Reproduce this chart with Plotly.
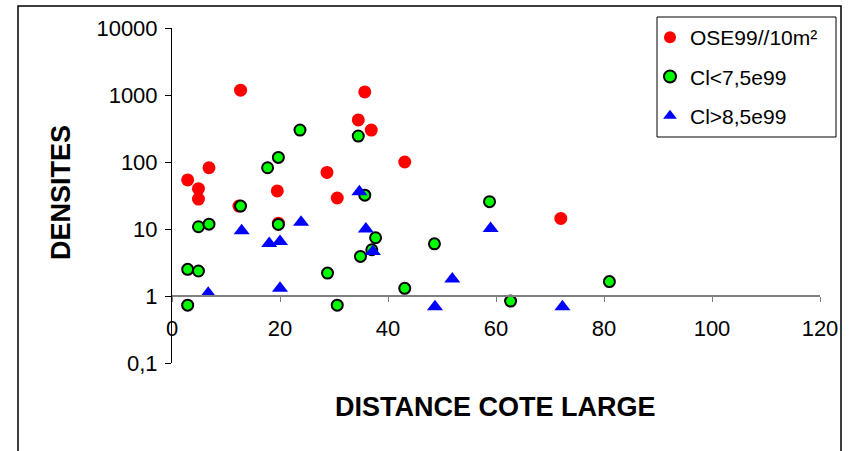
import plotly.graph_objects as go

# --- data ---
red_x = [2.9, 4.9, 4.9, 6.85, 12.4, 12.7, 19.5, 19.7, 28.7, 30.6, 34.5, 35.7, 36.9, 43.1, 72]
red_y = [54, 40, 28, 82, 22, 1180, 37, 12.2, 70, 29, 424, 1110, 300, 100, 14.4]

green_x = [2.9, 2.9, 4.9, 4.9, 6.85, 12.7, 17.7, 19.7, 19.7, 23.7, 28.8, 30.6, 34.5, 34.9,
           35.7, 37.0, 37.7, 43.1, 48.6, 58.8, 62.7, 81]
green_y = [2.5, 0.73, 2.36, 10.8, 11.8, 22, 82, 117, 11.7, 300, 2.2, 0.73, 244, 3.9,
           32, 4.9, 7.4, 1.3, 6.0, 25.6, 0.84, 1.64]

blue_x = [6.7, 12.9, 18, 20, 20, 23.9, 34.7, 35.9, 37.2, 48.7, 51.9, 59, 72.3]
blue_y = [1.1, 9.4, 6.1, 6.5, 1.3, 12.6, 36, 10, 4.6, 0.69, 1.8, 10.2, 0.69]

series_names = ["OSE99//10m²", "Cl<7,5e99", "Cl>8,5e99"]
y_tickvals = [0.1, 1, 10, 100, 1000, 10000]
y_ticktext = ["0,1", "1", "10", "100", "1000", "10000"]
x_tickvals = [0, 20, 40, 60, 80, 100, 120]
x_title = "DISTANCE COTE LARGE"
y_title = "DENSITES"

FONT = "Liberation Sans, Arial, sans-serif"

fig = go.Figure()
fig.add_trace(go.Scatter(x=red_x, y=red_y, mode="markers", name=series_names[0],
                         legendgroup="a",
                         marker=dict(symbol="circle", size=13, color="#FF0000",
                                     line=dict(width=0))))
fig.add_trace(go.Scatter(x=green_x, y=green_y, mode="markers", name=series_names[1],
                         legendgroup="b",
                         marker=dict(symbol="circle", size=11, color="#00FF00",
                                     line=dict(width=2, color="black"))))
fig.add_trace(go.Scatter(x=blue_x, y=blue_y, mode="markers", name=series_names[2],
                         legendgroup="c",
                         marker=dict(symbol="triangle-up", size=14, color="#0000FF",
                                     line=dict(width=0))))

W, H = 856, 451
L, R, T, B = 172, 820, 28, 363
pw, ph = R - L, B - T

def px2x(px):
    return (px - L) / pw

def px2y(py):
    return (B - py) / ph

fig.update_layout(
    width=W, height=H,
    margin=dict(l=L, r=W - R, t=T, b=H - B, pad=0),
    paper_bgcolor="white", plot_bgcolor="white",
    font=dict(family=FONT, size=22, color="black"),
    showlegend=True,
    legend=dict(x=px2x(650), y=px2y(17), xanchor="left", yanchor="top",
                bgcolor="rgba(0,0,0,0)", borderwidth=0,
                traceorder="grouped", tracegroupgap=9, itemsizing="constant",
                font=dict(family=FONT, size=21, color="black")),
    xaxis=dict(range=[0, 120], tickvals=x_tickvals, showgrid=False, zeroline=False,
               showline=True, linecolor="#808080", linewidth=1.5,
               ticks="outside", ticklen=5, tickcolor="#808080", tickwidth=1,
               anchor="free", position=0.2, ticklabelstandoff=8,
               tickfont=dict(family=FONT, size=22, color="black")),
    yaxis=dict(type="log", range=[-1, 4], tickvals=y_tickvals, ticktext=y_ticktext,
               showgrid=False, zeroline=False, showline=True, linecolor="black",
               linewidth=1, ticks="outside", ticklen=6, tickcolor="black",
               ticklabelstandoff=3,
               tickfont=dict(family=FONT, size=22, color="black")),
    annotations=[
        dict(text=x_title, xref="paper", yref="paper", x=px2x(495), y=px2y(407),
             xanchor="center", yanchor="middle", showarrow=False,
             font=dict(family=FONT, size=27, color="black", weight="bold")),
        dict(text=y_title, xref="paper", yref="paper", x=px2x(61), y=px2y(192),
             xanchor="center", yanchor="middle", showarrow=False, textangle=-90,
             font=dict(family=FONT, size=27, color="black", weight="bold")),
    ],
    shapes=[
        dict(type="rect", xref="paper", yref="paper",
             x0=px2x(18), x1=px2x(841), y0=px2y(470), y1=px2y(6),
             line=dict(color="black", width=1.5), fillcolor="rgba(0,0,0,0)"),
        dict(type="rect", xref="paper", yref="paper",
             x0=px2x(657), x1=px2x(836), y0=px2y(137), y1=px2y(17),
             line=dict(color="black", width=1), fillcolor="rgba(0,0,0,0)"),
    ],
)

fig.write_html("out.html",
               config={"displayModeBar": False},
               post_script="document.body.style.margin='0px';document.body.style.overflow='hidden';")
